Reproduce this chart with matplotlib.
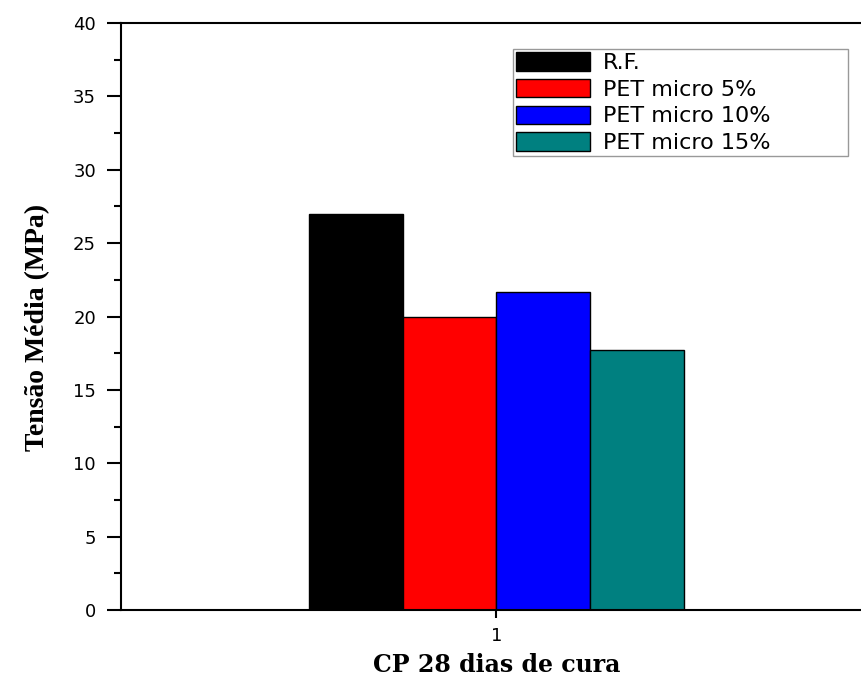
import matplotlib
matplotlib.use('Agg')
from matplotlib import pyplot as plt
from matplotlib.ticker import MultipleLocator

# Resistência média aos 28 dias
series = ['R.F.', 'PET micro 5%', 'PET micro 10%', 'PET micro 15%']
tensao = [27.0, 20.0, 21.7, 17.7]
cores = ['#000000', '#ff0000', '#0000ff', '#008080']
grupo = [1]

fig = plt.figure(figsize=(8.61, 6.79), dpi=100)
ax = fig.add_axes([0.1405, 0.1016, 0.8723, 0.8645])

largura = 0.125
for i, (nome, valor, cor) in enumerate(zip(series, tensao, cores)):
    desloc = (i - 1.5) * largura
    ax.bar([g + desloc for g in grupo], [valor], width=largura, color=cor,
           edgecolor='black', linewidth=1.0, label=nome)

ax.set_xlim(0.5, 1.5)
ax.set_ylim(0, 40)
ax.set_xticks(grupo)
ax.yaxis.set_major_locator(MultipleLocator(5))
ax.yaxis.set_minor_locator(MultipleLocator(2.5))

for s in ax.spines.values():
    s.set_linewidth(1.5)
ax.tick_params(axis='y', which='major', direction='out', length=10, width=1.5,
               labelsize=13, pad=8)
ax.tick_params(axis='y', which='minor', direction='out', length=5, width=1.5)
ax.tick_params(axis='x', which='major', direction='out', length=6, width=1.5,
               labelsize=13, pad=6)
for lab in ax.get_xticklabels() + ax.get_yticklabels():
    lab.set_family('DejaVu Sans')

# rótulos dos eixos
ax.set_ylabel('Tensão Média (MPa)', fontsize=20, fontweight='bold',
              family='Liberation Serif')
ax.yaxis.set_label_coords(-0.094, 0.482)
ax.set_xlabel('CP 28 dias de cura', fontsize=17, fontweight='bold',
              family='DejaVu Serif')
ax.xaxis.set_label_coords(0.5, -0.1056)
ax.xaxis.label.set_verticalalignment('baseline')

leg = ax.legend(loc='upper left', bbox_to_anchor=(0.596, 0.80, 0.389, 0.128),
                bbox_transform=fig.transFigure, mode='expand', frameon=True,
                fancybox=False, prop={'family': 'DejaVu Sans', 'size': 16},
                handlelength=3.3, handleheight=0.9, labelspacing=0.26,
                borderpad=0.15, handletextpad=0.6, borderaxespad=0)
leg.get_frame().set_edgecolor('#808080')
leg.get_frame().set_linewidth(1.0)

plt.savefig('out.png', dpi=100)
plt.close('all')
